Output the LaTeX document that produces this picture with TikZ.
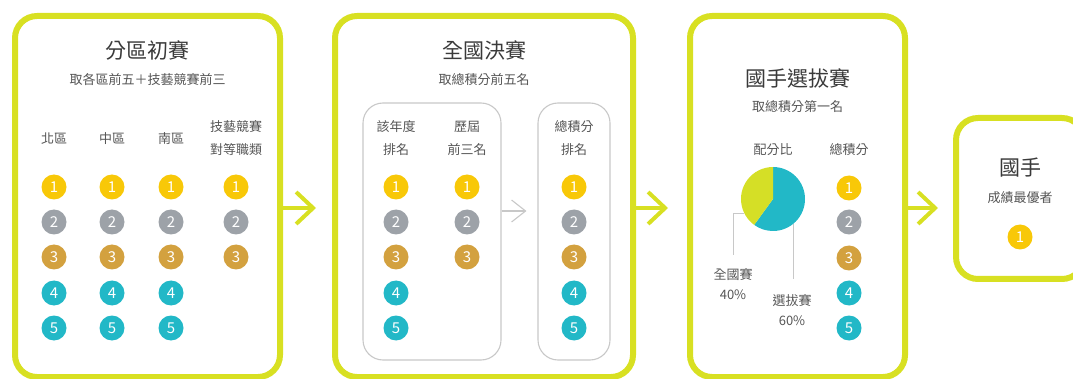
\documentclass[tikz,border=0pt]{standalone}
\usepackage{fontspec}
\setmainfont{Noto Sans CJK TC}
\usetikzlibrary{arrows.meta}
\definecolor{lime}{HTML}{D8E022}
\definecolor{piey}{HTML}{D5DF26}
\definecolor{teal2}{HTML}{22B8C7}
\definecolor{cgold}{HTML}{F8C808}
\definecolor{cgray}{HTML}{9DA2A8}
\definecolor{cbronze}{HTML}{D3A13F}
\definecolor{titlec}{HTML}{3A3A3A}
\definecolor{textc}{HTML}{555555}
\definecolor{lightg}{HTML}{C8C8C8}
\begin{document}
\begin{tikzpicture}[x=1pt,y=-1pt,
  stage/.style={draw=lime, line width=6pt, rounded corners=22pt, inner sep=0pt},
  inbox/.style={draw=lightg, line width=1.1pt, rounded corners=20pt, inner sep=0pt},
  title/.style={font=\fontsize{21}{24}\selectfont, text=titlec},
  sub/.style={font=\fontsize{13}{16}\selectfont, text=textc},
  hdr/.style={font=\fontsize{13}{23}\selectfont, text=textc, align=center},
  lbl/.style={font=\fontsize{13}{20}\selectfont, text=textc, align=center},
  num/.style={circle, minimum size=25pt, inner sep=0pt, text=white, font=\fontsize{15}{15}\selectfont},
  n1/.style={num, fill=cgold},
  n2/.style={num, fill=cgray},
  n3/.style={num, fill=cbronze},
  n4/.style={num, fill=teal2},
  n5/.style={num, fill=teal2},
  flow/.style={draw=lime, line width=4pt, -{Straight Barb[length=17pt,width=32pt]}},
  gflow/.style={draw=lightg, line width=1.1pt, -{Straight Barb[length=14pt,width=22pt]}},
  leader/.style={draw=lightg, line width=1pt}]
\useasboundingbox (0,0) rectangle (1073,379);

% stage boxes
\node[stage, minimum width=265pt, minimum height=361pt] (box1) at (147.5,196.5) {};
\node[stage, minimum width=298pt, minimum height=361pt] (box2) at (484,196.5) {};
\node[stage, minimum width=215pt, minimum height=361pt] (box3) at (797.5,196.5) {};
\node[stage, minimum width=128pt, minimum height=161pt] (box4) at (1020,198.5) {};

% box 1
\node[title] (t1) at (147.5,50) {分區初賽};
\node[sub] (s1) at (147.5,80) {取各區前五＋技藝競賽前三};
\node[hdr] (h11) at (54,139) {北區};
\node[hdr] (h12) at (112,139) {中區};
\node[hdr] (h13) at (171,139) {南區};
\node[hdr] (h14) at (236,138.5) {技藝競賽\\對等職類};
\foreach \c/\x in {a/54,b/112,c/171}{
  \foreach \r/\y in {1/187,2/222,3/257,4/293,5/328}{
    \node[n\r] (p1\c\r) at (\x,\y) {\r};
  }
}
\foreach \r/\y in {1/187,2/222,3/257}{
  \node[n\r] (p1d\r) at (236,\y) {\r};
}

% box 2
\node[title] (t2) at (484,50) {全國決賽};
\node[sub] (s2) at (484,80) {取總積分前五名};
\node[inbox, minimum width=138pt, minimum height=257pt] (in1) at (432,231.5) {};
\node[inbox, minimum width=72pt, minimum height=257pt] (in2) at (574,231.5) {};
\node[hdr] (h21) at (396,138.5) {該年度\\排名};
\node[hdr] (h22) at (467,138.5) {歷屆\\前三名};
\node[hdr] (h23) at (574,138.5) {總積分\\排名};
\foreach \r/\y in {1/187,2/222,3/257,4/293,5/328}{
  \node[n\r] (p2a\r) at (396,\y) {\r};
  \node[n\r] (p2c\r) at (574,\y) {\r};
}
\foreach \r/\y in {1/187,2/222,3/257}{
  \node[n\r] (p2b\r) at (467,\y) {\r};
}
\coordinate (g1) at ([yshift=20.5pt]in1.east);
\draw[gflow, shorten >=11pt] (g1) -- (g1 -| in2.west);

% box 3
\node[title] (t3) at (797.5,78) {國手選拔賽};
\node[sub] (s3) at (797.5,107) {取總積分第一名};
\node[hdr] (h31) at (773,150) {配分比};
\node[hdr] (h32) at (849,150) {總積分};
\node[circle, minimum size=64pt, inner sep=0pt] (pie) at (773,199) {};
\fill[teal2] (pie.center) -- ++(-90:32) arc[start angle=-90, end angle=126, radius=32] -- cycle;
\fill[piey] (pie.center) -- ++(126:32) arc[start angle=126, end angle=270, radius=32] -- cycle;
\node[lbl] (l40) at (733,284) {全國賽\\40\%};
\node[lbl] (l60) at (792,310) {選拔賽\\60\%};
\draw[leader, shorten >=10pt] (pie.207) -| (l40.north);
\draw[leader, shorten >=12pt] (pie.-51) -- (pie.-51 |- l60.north);
\foreach \r/\y in {1/188,2/222,3/258,4/293,5/328}{
  \node[n\r] (p3\r) at (849,\y) {\r};
}

% box 4
\node[title] (t4) at (1020,168) {國手};
\node[sub] (s4) at (1020,198) {成績最優者};
\node[n1] (p41) at (1020,237) {1};

% flow arrows
\coordinate (f1) at ([yshift=-11.5pt]box1.east);
\coordinate (f2) at ([yshift=-11.5pt]box2.east);
\coordinate (f3) at ([yshift=-11.5pt]box3.east);
\draw[flow, shorten >=16pt] (f1) -- (f1 -| box2.west);
\draw[flow, shorten >=19pt] (f2) -- (f2 -| box3.west);
\draw[flow, shorten >=15pt] (f3) -- (f3 -| box4.west);
\end{tikzpicture}
\end{document}
